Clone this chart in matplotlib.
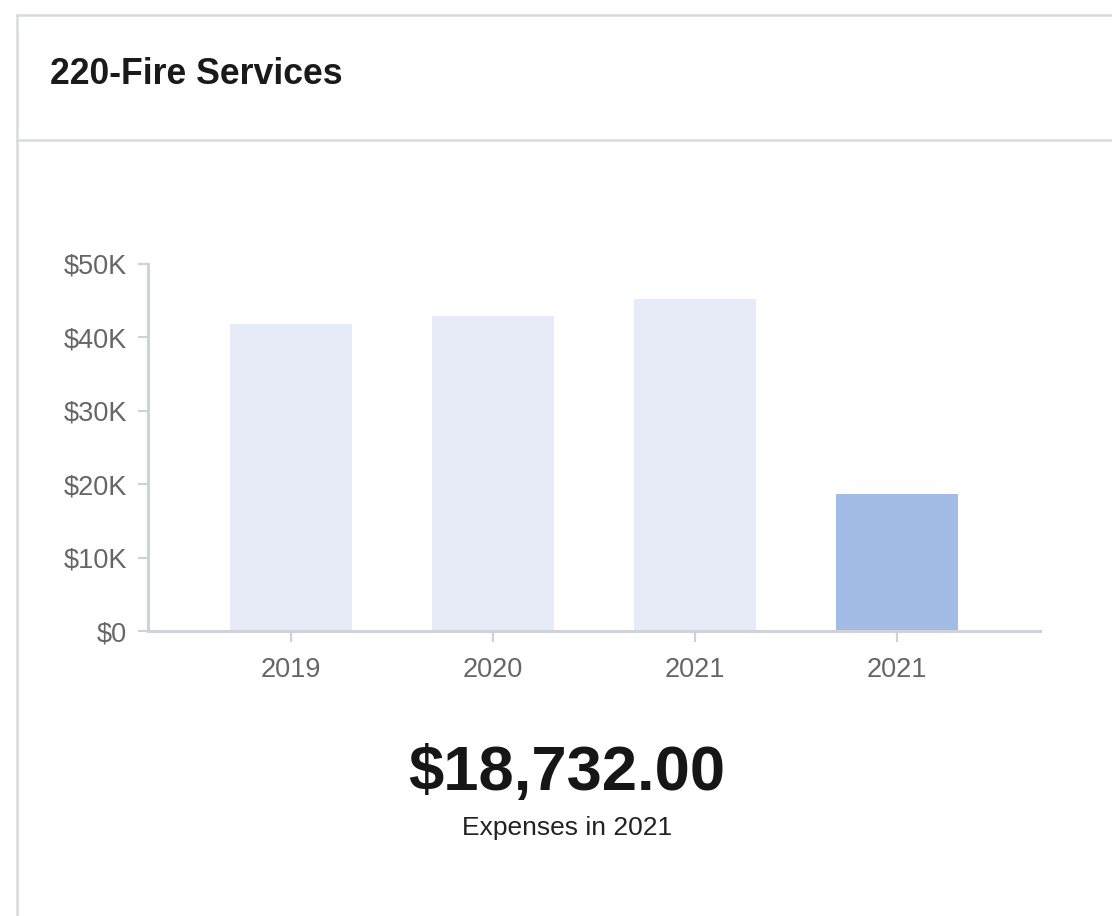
import matplotlib.pyplot as plt
from matplotlib.lines import Line2D
from matplotlib.ticker import FuncFormatter

plt.rcParams['font.family'] = ['Liberation Sans', 'DejaVu Sans']

# expenses per year; the last bar is the current year
years = ['2019', '2020', '2021', '2021']
expenses = [41800, 42900, 45200, 18732]
bar_colors = ['#e6ebf7', '#e6ebf7', '#e6ebf7', '#a3bce5']
y_ticks = [0, 10000, 20000, 30000, 40000, 50000]

W, H = 1112, 916
fig = plt.figure(figsize=(W / 100, H / 100), dpi=100)

# card outline and header divider
border = '#d8dbdf'
fig.add_artist(Line2D([16.5 / W, 16.5 / W], [0, 1 - 14.5 / H], color=border, lw=1.8))
fig.add_artist(Line2D([16.5 / W, 1], [1 - 14.5 / H, 1 - 14.5 / H], color=border, lw=1.8))
fig.add_artist(Line2D([16.5 / W, 1], [1 - 140 / H, 1 - 140 / H], color=border, lw=1.8))

fig.text(50 / W, 1 - 74 / H, '220-Fire Services', fontsize=25.7, fontweight='bold',
         color='#1a1a1a', ha='left', va='center')

ax = fig.add_axes([148 / W, 1 - 631 / H, (1040 - 148) / W, (631 - 264) / H])
x = range(len(years))
ax.bar(x, expenses, width=0.6, color=bar_colors, zorder=2)

ax.set_xlim(-0.708, 3.708)
ax.set_ylim(0, 50000)
ax.set_yticks(y_ticks)
ax.yaxis.set_major_formatter(FuncFormatter(lambda v, p: f'${v / 1000:.0f}K' if v else '$0'))
ax.set_xticks(list(x))
ax.set_xticklabels(years)

axis_col = '#cfd3d9'
for side in ['top', 'right']:
    ax.spines[side].set_visible(False)
for side in ['left', 'bottom']:
    ax.spines[side].set_color(axis_col)
    ax.spines[side].set_linewidth(2.2)
    ax.spines[side].set_zorder(3)
ax.tick_params(axis='y', length=7, width=1.6, color=axis_col, labelsize=19.5,
               labelcolor='#666666', pad=8)
ax.tick_params(axis='x', length=8, width=1.6, color=axis_col, labelsize=19.5,
               labelcolor='#666666', pad=11)

# headline figure for the current year
fig.text(567 / W, 1 - 774 / H, f'${expenses[-1]:,.2f}', fontsize=45.6, fontweight='bold',
         color='#161616', ha='center', va='center')
fig.text(567 / W, 1 - 828 / H, 'Expenses in 2021', fontsize=19, color='#222222',
         ha='center', va='center')

fig.savefig('out.png', dpi=100, facecolor='white')
